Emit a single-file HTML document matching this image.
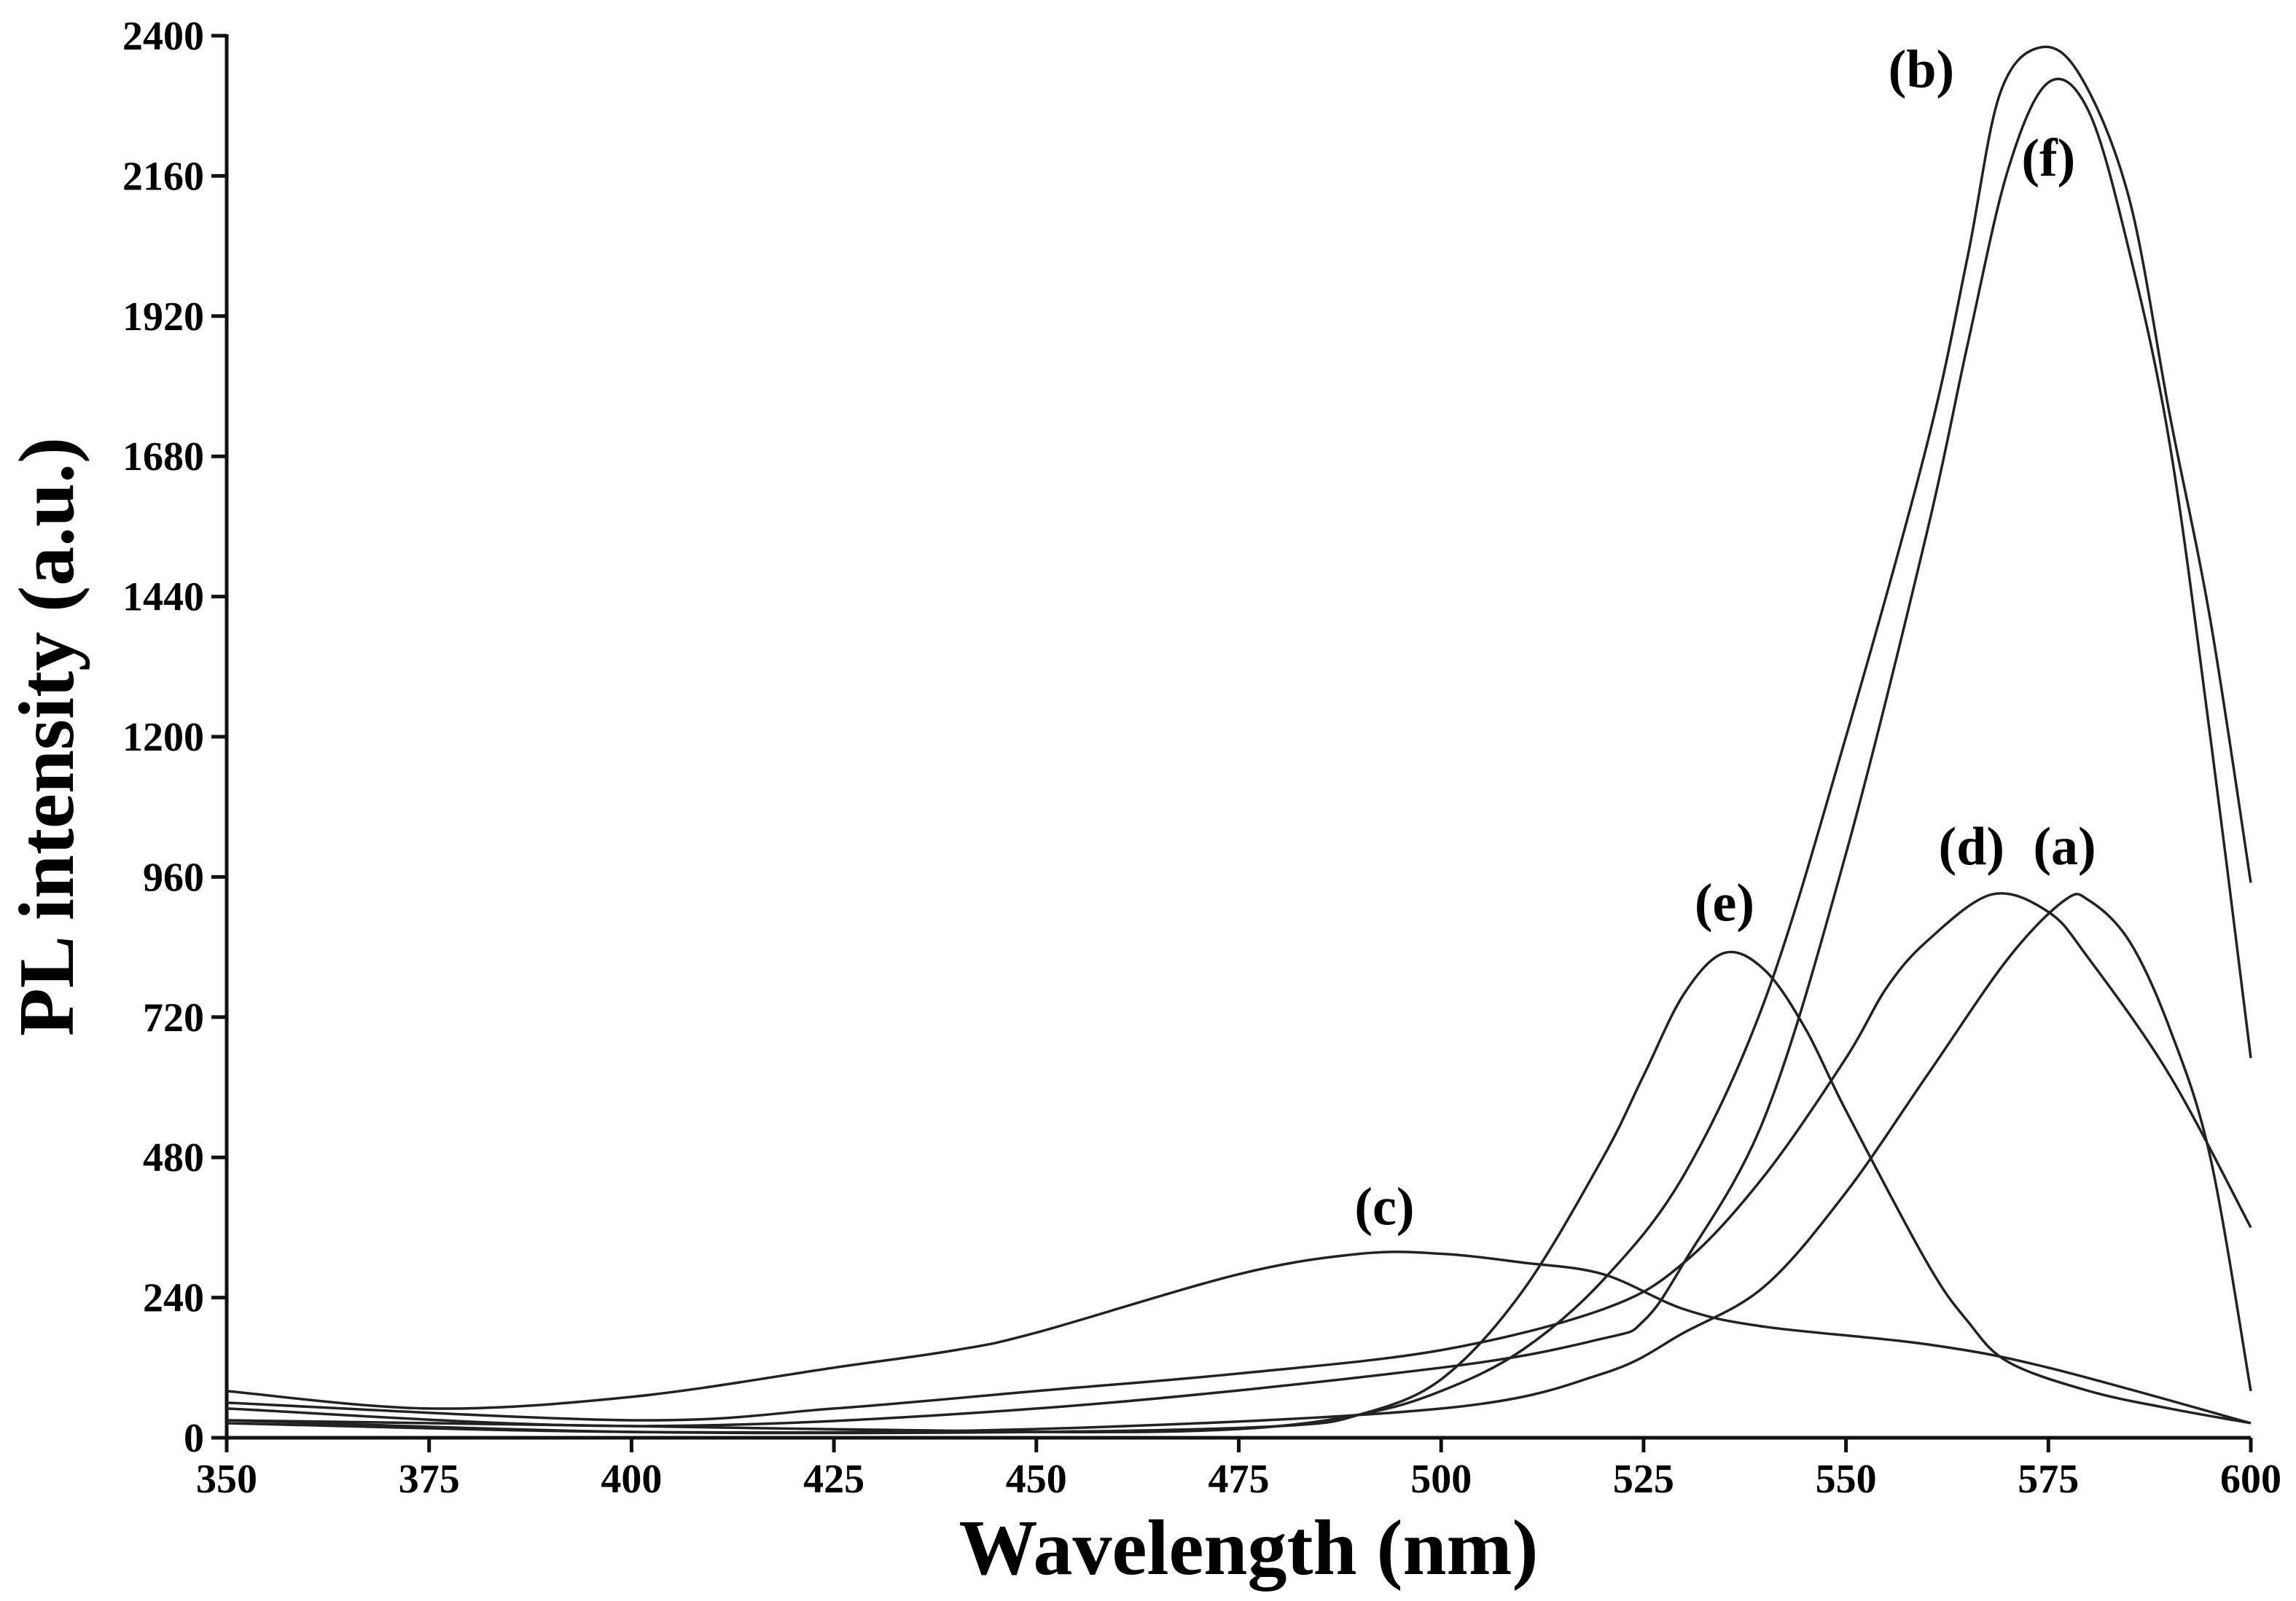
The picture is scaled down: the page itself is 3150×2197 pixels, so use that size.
<!DOCTYPE html>
<html><head><meta charset="utf-8">
<style>
html,body{margin:0;padding:0;background:#fff;}
svg{display:block;font-family:"Liberation Serif",serif;font-weight:bold;}
</style></head>
<body>
<svg id="chart" width="3150" height="2197" viewBox="0 0 3150 2197" xmlns="http://www.w3.org/2000/svg">
<g id="axes"></g>
<g id="series"></g>
<g id="labels"></g>
<text transform="translate(100,1011) rotate(-90)" text-anchor="middle" font-size="108">PL intensity (a.u.)</text>
<text x="1713" y="2160" text-anchor="middle" font-size="108">Wavelength (nm)</text>
</svg>
<script>
const xTicks = [350,375,400,425,450,475,500,525,550,575,600];
const yTicks = [0,240,480,720,960,1200,1440,1680,1920,2160,2400];
const wlA = [350,400,450,500,520,530,540,550,560,570,577,580,585,590,595,600];
const valA = [25,10,15,50,110,180,260,420,620,820,920,920,850,700,480,80];
const wlB = [350,400,450,475,490,500,510,520,530,540,550,560,565,569,574,579,585,590,595,600];
const valB = [30,20,10,15,40,80,150,270,450,750,1200,1700,2020,2300,2380,2330,2120,1750,1400,950];
const wlC = [350,375,400,425,440,450,475,490,500,510,520,530,540,560,575,600];
const valC = [80,50,70,120,150,180,280,315,315,300,280,220,190,160,120,25];
const wlD = [350,400,425,450,475,500,520,530,540,550,555,560,568,575,580,590,600];
const valD = [60,30,50,80,110,150,220,300,450,650,770,850,930,900,820,620,360];
const wlE = [350,400,450,480,490,500,510,520,525,530,535,540,545,550,560,565,570,580,590,600];
const valE = [30,10,10,20,40,100,250,480,620,760,830,800,700,560,300,200,130,80,50,25];
const wlF = [350,400,450,500,520,525,530,540,550,560,565,570,575,580,585,590,595,600];
const valF = [50,20,50,120,170,200,300,550,1000,1550,1870,2170,2320,2270,2030,1700,1200,650];
const seriesNames = ['a','b','c','d','e','f'];
const labelWl = [577,559.3,493,565.5,535,575];
const labelVal = [982,2312,365,982,885,2160];

const NS='http://www.w3.org/2000/svg';
const X0=311,X1=3088,Y0=1973,Y1=49;
function xs(w){return X0+(w-350)/(600-350)*(X1-X0);}
function ys(v){return Y0-v/2400*(Y0-Y1);}
function mk(tag,attrs,parent){const e=document.createElementNS(NS,tag);for(const k in attrs)e.setAttribute(k,attrs[k]);parent.appendChild(e);return e;}
const axes=document.getElementById('axes');
let l=mk('line',{x1:X0,y1:Y1-2,x2:X0,y2:Y0+20,stroke:'#111','stroke-width':5},axes);


l=mk('line',{x1:X0-21,y1:Y0,x2:X1,y2:Y0,stroke:'#111','stroke-width':5},axes);


xTicks.forEach(t=>{
  const x=xs(t);
  const tk=mk('line',{x1:x,y1:Y0,x2:x,y2:Y0+20,stroke:'#111','stroke-width':5},axes);
  
  
  const tx=mk('text',{x:x,y:Y0+75,'text-anchor':'middle','font-size':56},axes);
  tx.textContent=t;
  
  
});
yTicks.forEach(t=>{
  const y=ys(t);
  const tk=mk('line',{x1:X0-21,y1:y,x2:X0,y2:y,stroke:'#111','stroke-width':5},axes);
  
  
  const tx=mk('text',{x:X0-31,y:y+19,'text-anchor':'end','font-size':56},axes);
  tx.textContent=t;
  
  
});
function pathFor(wl,val){
  const p=wl.map((w,i)=>[xs(w),ys(val[i])]);
  let d='M'+p[0][0]+','+p[0][1];
  for(let i=0;i<p.length-1;i++){
    const p0=p[Math.max(0,i-1)],p1=p[i],p2=p[i+1],p3=p[Math.min(p.length-1,i+2)];
    const c1=[p1[0]+(p2[0]-p0[0])/6,p1[1]+(p2[1]-p0[1])/6];
    const c2=[p2[0]-(p3[0]-p1[0])/6,p2[1]-(p3[1]-p1[1])/6];
    d+=' C'+c1.join(',')+' '+c2.join(',')+' '+p2.join(',');
  }
  return d;
}
const sdata=[[wlA,valA],[wlB,valB],[wlC,valC],[wlD,valD],[wlE,valE],[wlF,valF]];
const sg=document.getElementById('series');
sdata.forEach((s,i)=>{
  const p=mk('path',{d:pathFor(s[0],s[1]),fill:'none',stroke:'#222','stroke-width':3.5},sg);
  
  
});
const lg=document.getElementById('labels');
seriesNames.forEach((n,i)=>{
  const t=mk('text',{x:xs(labelWl[i]),y:ys(labelVal[i]),'text-anchor':'middle','font-size':74},lg);
  t.textContent='('+n+')';
  
  
});
</script>
</body></html>
